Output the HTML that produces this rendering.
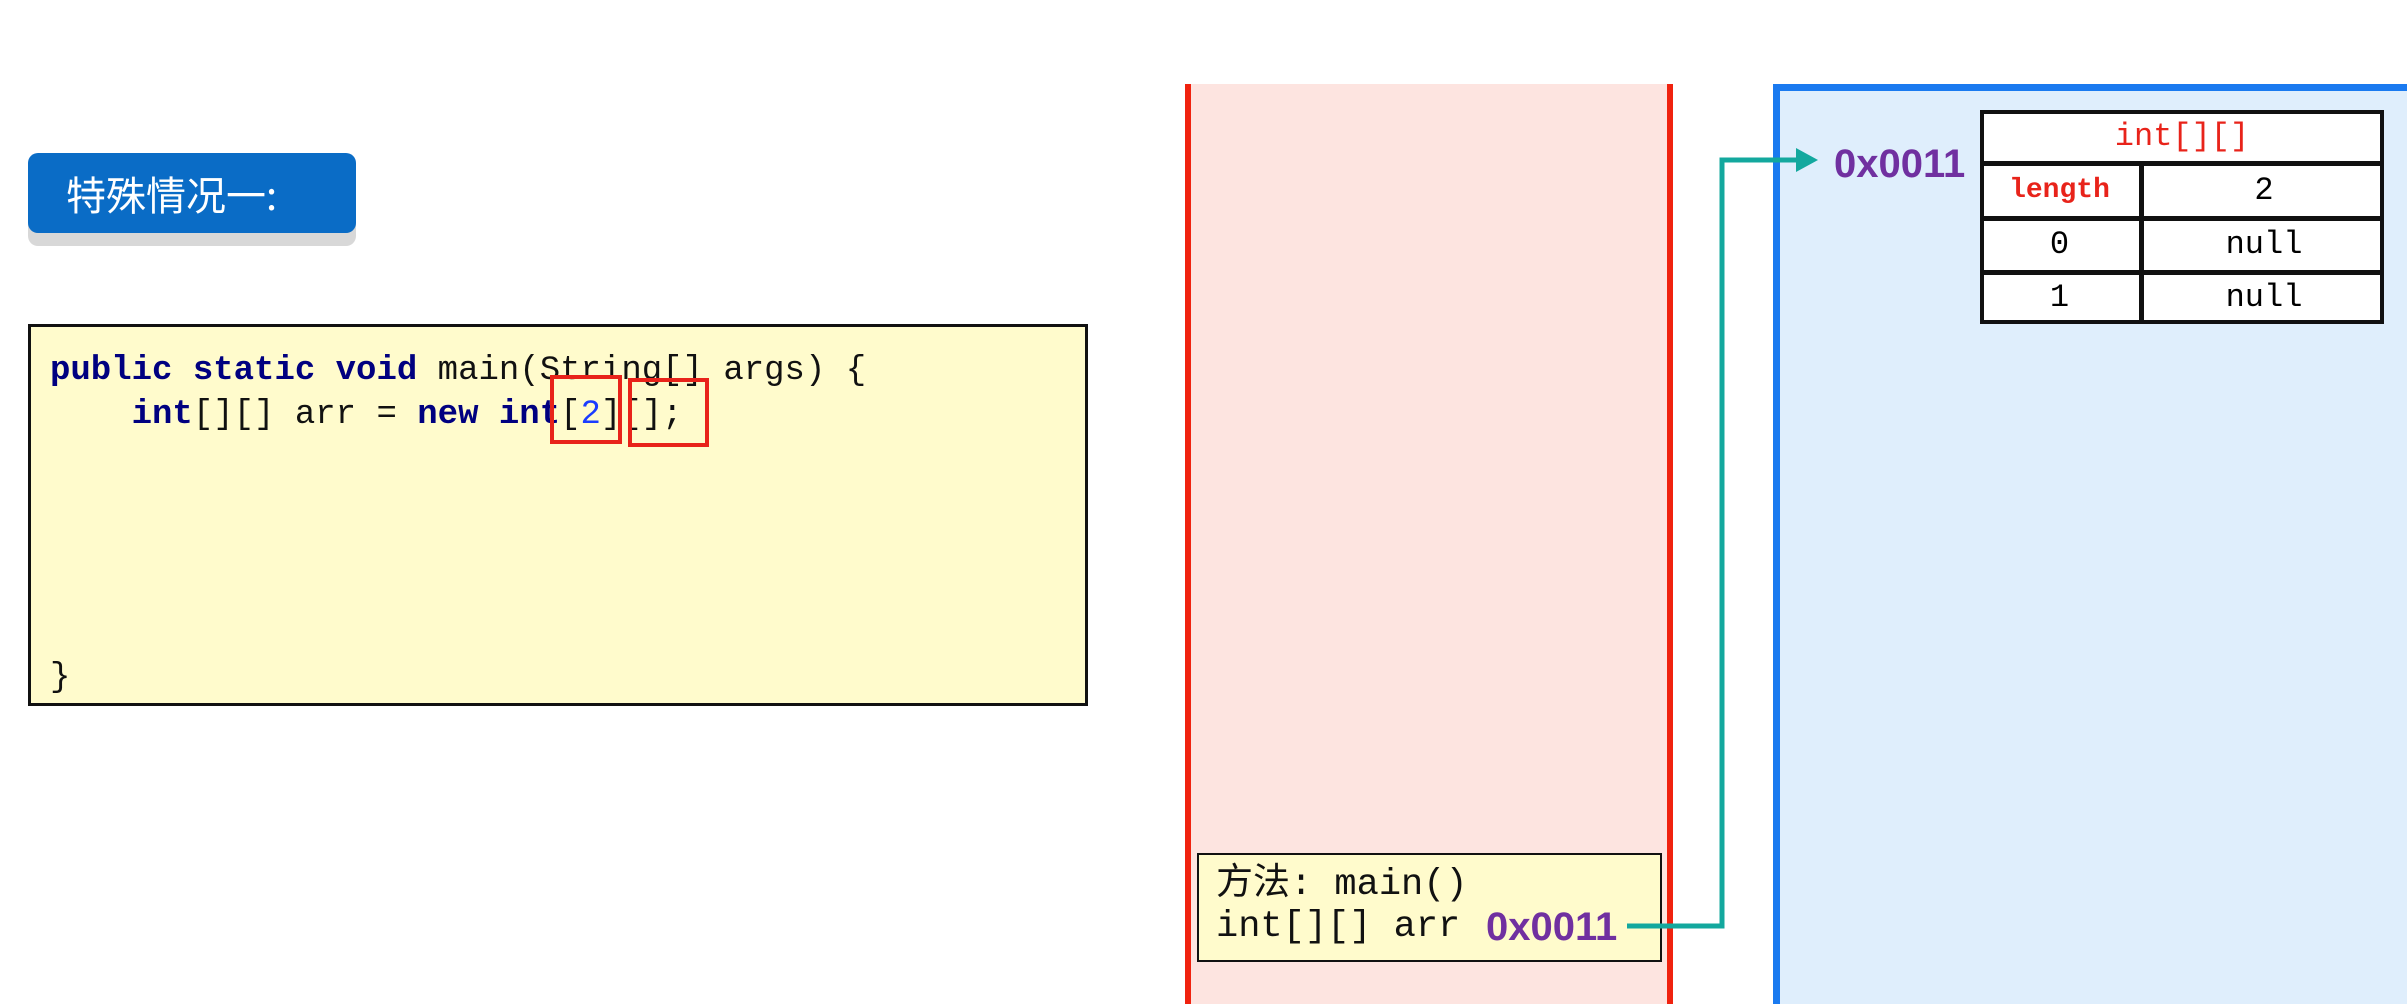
<!DOCTYPE html>
<html><head><meta charset="utf-8"><style>
body{margin:0;width:2407px;height:998px;overflow:hidden;background:#fff;position:relative;font-family:"Liberation Mono","Noto Sans CJK SC",monospace}
div,span{position:absolute;box-sizing:border-box}
.kw{position:static;color:#000080;font-weight:bold}
</style></head><body>
<!-- label -->
<div style="left:28px;top:166px;width:328px;height:80px;background:#d8d8d8;border-radius:10px"></div>
<div style="left:28px;top:153px;width:328px;height:80px;background:#0a6cc6;border-radius:10px;color:#fff;font-family:'Noto Sans CJK SC',sans-serif;font-size:40px;line-height:80px;padding-left:38px">特殊情况一:</div>
<!-- code box -->
<div style="left:28px;top:324px;width:1060px;height:382px;background:#fffbcc;border:3px solid #111"></div>
<div style="left:50px;top:349px;font-size:34px;line-height:44px;color:#111;white-space:pre"><span class="kw">public</span> <span class="kw">static</span> <span class="kw">void</span> main(String[] args) {
    <span class="kw">int</span>[][] arr = <span class="kw">new</span> <span class="kw">int</span>[<span style="position:static;color:#1a3cff">2</span>][];</div>
<div style="left:50px;top:659px;font-size:34px;color:#111">}</div>
<div style="left:550px;top:375px;width:72px;height:69px;border:4px solid #e8231a"></div>
<div style="left:628px;top:378px;width:81px;height:69px;border:4px solid #e8231a"></div>
<!-- stack -->
<div style="left:1185px;top:84px;width:488px;height:920px;background:#fde4e0;border-left:6px solid #f0220f;border-right:6px solid #f0220f"></div>
<div style="left:1197px;top:853px;width:465px;height:109px;background:#fffbcc;border:2px solid #111"></div>
<div style="left:1216px;top:864px;font-size:37px;line-height:42px;color:#111;white-space:pre">方法: main()
int[][] arr</div>
<div style="left:1486px;top:905px;font-size:40px;font-weight:bold;color:#7030a0;font-family:'Liberation Sans',sans-serif">0x0011</div>
<!-- heap -->
<div style="left:1773px;top:84px;width:700px;height:920px;background:#dfeefc;border-left:7px solid #1a7af0;border-top:7px solid #1a7af0"></div>
<svg style="position:absolute;left:0;top:0" width="2407" height="998">
<polyline points="1627,926 1722,926 1722,160 1800,160" fill="none" stroke="#13a89e" stroke-width="5"/>
<polygon points="1796,148 1818,160 1796,172" fill="#13a89e"/>
</svg>
<div style="left:1834px;top:142px;font-size:40px;font-weight:bold;color:#7030a0;font-family:'Liberation Sans',sans-serif">0x0011</div>
<!-- table -->
<div style="left:1980px;top:110px;width:404px;height:214px;background:#fff;border:4px solid #111"></div>
<div style="left:1980px;top:110px;width:404px;height:56px;border-bottom:5px solid #111;color:#e8231a;font-size:32px;text-align:center;line-height:54px">int[][]</div>
<div style="left:1980px;top:164px;width:164px;height:57px;border-bottom:5px solid #111;border-right:5px solid #111;color:#e8231a;font-size:28px;font-weight:bold;text-align:center;line-height:54px">length</div>
<div style="left:2144px;top:164px;width:240px;height:57px;border-bottom:5px solid #111;font-size:32px;text-align:center;line-height:54px">2</div>
<div style="left:1980px;top:219px;width:164px;height:56px;border-bottom:5px solid #111;border-right:5px solid #111;font-size:32px;text-align:center;line-height:52px">0</div>
<div style="left:2144px;top:219px;width:240px;height:56px;border-bottom:5px solid #111;font-size:32px;text-align:center;line-height:52px">null</div>
<div style="left:1980px;top:273px;width:164px;height:51px;border-right:5px solid #111;font-size:32px;text-align:center;line-height:50px">1</div>
<div style="left:2144px;top:273px;width:240px;height:51px;font-size:32px;text-align:center;line-height:50px">null</div>
</body></html>
